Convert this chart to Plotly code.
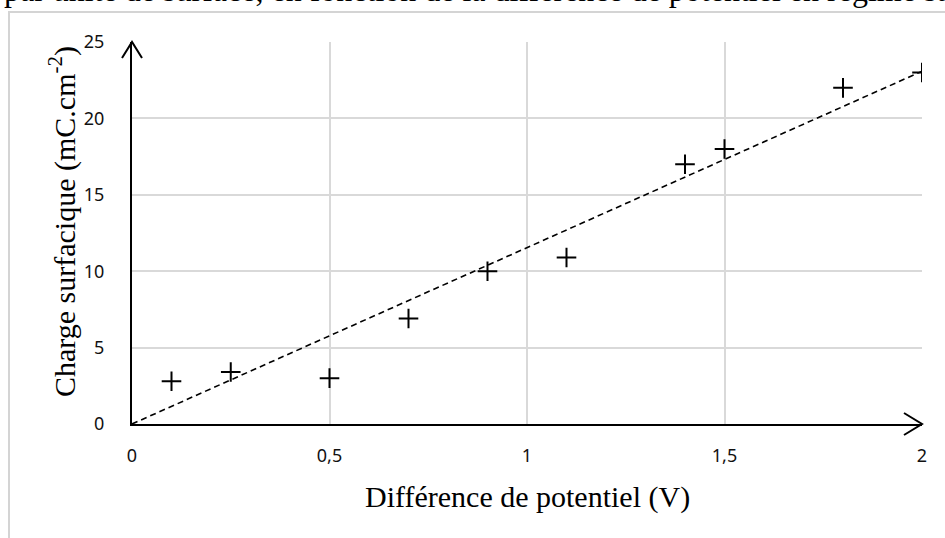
import numpy as np
import plotly.graph_objects as go

# Measured surface charge vs. potential difference
tension_v = [0.1, 0.25, 0.5, 0.7, 0.9, 1.1, 1.4, 1.5, 1.8, 2.0]
charge_mc_cm2 = [2.8, 3.4, 3.0, 6.9, 10.0, 10.9, 17.0, 18.0, 22.0, 23.0]
x_ticks = [0, 0.5, 1, 1.5, 2]
x_tick_labels = ["0", "0,5", "1", "1,5", "2"]
y_ticks = [0, 5, 10, 15, 20, 25]

# Linear trendline forced through the origin (least squares)
x_arr = np.array(tension_v)
y_arr = np.array(charge_mc_cm2)
slope = float((x_arr * y_arr).sum() / (x_arr ** 2).sum())
fit_x = [0.0, 2.0]
fit_y = [slope * v for v in fit_x]

W, H = 945, 538
L, R, T, B = 132, 23, 42, 114
PW, PH = W - L - R, H - T - B


def px(xp):
    return (xp - L) / PW


def py(yp):
    return (H - B - yp) / PH


fig = go.Figure()

fig.add_trace(go.Scatter(
    x=fit_x, y=fit_y, mode="lines",
    line=dict(color="black", width=1.6, dash="6px,4px"),
    hoverinfo="skip", showlegend=False,
))
fig.add_trace(go.Scatter(
    x=tension_v, y=charge_mc_cm2, mode="markers",
    marker=dict(symbol="cross-thin", size=14, line=dict(color="black", width=2)),
    showlegend=False,
))

tick_font = dict(family="Noto Sans, Open Sans, sans-serif", size=18, color="#111111")
serif = "Liberation Serif, Times New Roman, serif"

fig.update_xaxes(
    range=[0, 2], tickvals=x_ticks, ticktext=x_tick_labels,
    showgrid=True, gridcolor="#d9d9d9", gridwidth=1.5,
    zeroline=False, showline=True, linecolor="black", linewidth=2,
    ticks="outside", ticklen=14, tickcolor="rgba(0,0,0,0)",
    tickfont=tick_font,
)
fig.update_yaxes(
    range=[0, 25], tickvals=y_ticks,
    showgrid=True, gridcolor="#d9d9d9", gridwidth=1.5,
    zeroline=False, showline=True, linecolor="black", linewidth=2,
    ticks="outside", ticklen=22, tickcolor="rgba(0,0,0,0)",
    tickfont=tick_font,
)

shapes = [
    # outer frame of the figure block
    dict(type="rect", xref="paper", yref="paper",
         x0=px(9), x1=px(990), y0=py(12), y1=py(600),
         line=dict(color="#d4d4d4", width=2), layer="below"),
    # open arrowheads at the ends of both axes
    dict(type="path", xref="paper", yref="paper",
         path=f"M {px(122)},{py(58)} L {px(132)},{py(42)} L {px(142)},{py(58)}",
         line=dict(color="black", width=2)),
    dict(type="path", xref="paper", yref="paper",
         path=f"M {px(904)},{py(413)} L {px(922)},{py(424)} L {px(904)},{py(435)}",
         line=dict(color="black", width=2)),
]

annotations = [
    dict(text="Différence de potentiel (V)", xref="paper", yref="paper",
         x=px(527), y=py(497), xanchor="center", yanchor="middle",
         showarrow=False, font=dict(family=serif, size=30, color="black")),
    dict(text="Charge surfacique (mC.cm<sup>-2</sup>)", xref="paper", yref="paper",
         x=px(62), y=py(222), xanchor="center", yanchor="middle", textangle=-90,
         showarrow=False, font=dict(family=serif, size=30, color="black")),
    dict(text="par unité de surface, en fonction de la différence de potentiel en régime stationnaire",
         xref="paper", yref="paper", x=px(2), y=py(10), xanchor="left", yanchor="bottom",
         showarrow=False, font=dict(family=serif, size=32, color="black")),
]

fig.update_layout(
    width=W, height=H,
    margin=dict(l=L, r=R, t=T, b=B),
    paper_bgcolor="white", plot_bgcolor="white",
    shapes=shapes, annotations=annotations,
)

fig.write_html("out.html")
